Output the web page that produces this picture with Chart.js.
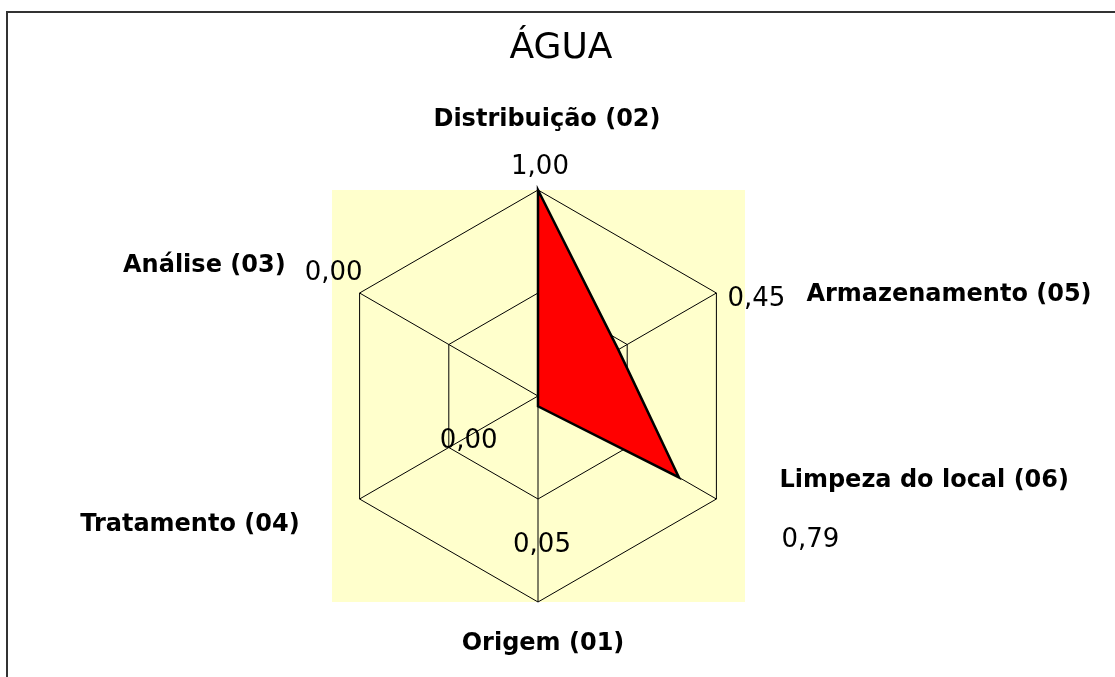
<!DOCTYPE html>
<html>
<head>
<meta charset="utf-8">
<script src="https://cdn.jsdelivr.net/npm/chart.js@4"></script>
<style>
  html, body { margin: 0; padding: 0; background: #fff; }
  #wrap { width: 1115px; height: 677px; position: relative; }
</style>
</head>
<body>
<div id="wrap"><canvas id="radarChart"></canvas></div>
<script>
// chart data
const chartTitle = "ÁGUA";
const categories = [
  "Distribuição (02)",
  "Armazenamento (05)",
  "Limpeza do local (06)",
  "Origem (01)",
  "Tratamento (04)",
  "Análise (03)",
];
const values = [1.0, 0.45, 0.79, 0.05, 0.0, 0.0];
const scaleTicks = [0, 0.5, 1];

// label placement, relative to the outer vertex of each spoke
const catOffsets = [
  { dx: 9, dy: -70, align: "center" },
  { dx: 90, dy: 2, align: "left" },
  { dx: 63, dy: -18, align: "left" },
  { dx: 5, dy: 42, align: "center" },
  { dx: -60, dy: 26, align: "right" },
  { dx: -74, dy: -27, align: "right" },
];
const valueOffsets = [
  { dx: 2, dy: -23 },
  { dx: 40, dy: 6 },
  { dx: 94, dy: 41 },
  { dx: 4, dy: -57 },
  { dx: 109, dy: -58 },
  { dx: -26, dy: -20 },
];

function formatValue(v) {
  return v.toFixed(2).replace(".", ",");
}

// background square, frame, title and labels
const decorPlugin = {
  id: "decor",
  beforeDraw(chart) {
    const ctx = chart.ctx;
    const r = chart.scales.r;
    ctx.save();
    ctx.fillStyle = "#ffffcc";
    ctx.fillRect(
      r.xCenter - r.drawingArea,
      r.yCenter - r.drawingArea,
      r.drawingArea * 2 + 1,
      r.drawingArea * 2
    );
    ctx.strokeStyle = "#333";
    ctx.lineWidth = 2;
    ctx.strokeRect(7, 12, 1200, 800);
    ctx.restore();
  },
  afterDraw(chart) {
    const ctx = chart.ctx;
    const r = chart.scales.r;
    ctx.save();
    ctx.fillStyle = "#000";
    ctx.textBaseline = "middle";

    ctx.font = "36px 'DejaVu Sans'";
    ctx.textAlign = "center";
    ctx.fillText(chartTitle, 561, 49);

    ctx.font = "bold 24px 'DejaVu Sans'";
    categories.forEach((name, i) => {
      const p = r.getPointPosition(i, r.drawingArea);
      const o = catOffsets[i];
      ctx.textAlign = o.align;
      ctx.fillText(name, p.x + o.dx, p.y + o.dy);
    });

    ctx.font = "26px 'DejaVu Sans'";
    ctx.textAlign = "center";
    values.forEach((v, i) => {
      const p = r.getPointPosition(i, r.drawingArea);
      const o = valueOffsets[i];
      ctx.fillText(formatValue(v), p.x + o.dx, p.y + o.dy);
    });
    ctx.restore();
  },
};

const ctx = document.getElementById("radarChart").getContext("2d");
new Chart(ctx, {
  type: "radar",
  data: {
    labels: categories,
    datasets: [
      {
        label: chartTitle,
        data: values,
        backgroundColor: "#ff0000",
        borderColor: "#000000",
        borderWidth: 2.5,
        pointRadius: 0,
        fill: true,
      },
    ],
  },
  options: {
    responsive: true,
    maintainAspectRatio: false,
    animation: false,
    layout: { padding: { top: 190, bottom: 75, left: 332, right: 370 } },
    plugins: {
      legend: { display: false },
      title: { display: false },
      tooltip: { enabled: false },
    },
    scales: {
      r: {
        min: scaleTicks[0],
        max: scaleTicks[scaleTicks.length - 1],
        ticks: { display: false, stepSize: scaleTicks[1] - scaleTicks[0] },
        pointLabels: { display: false },
        grid: { color: "#000", lineWidth: 1 },
        angleLines: { color: "#000", lineWidth: 1 },
      },
    },
  },
  plugins: [decorPlugin],
});
</script>
</body>
</html>
